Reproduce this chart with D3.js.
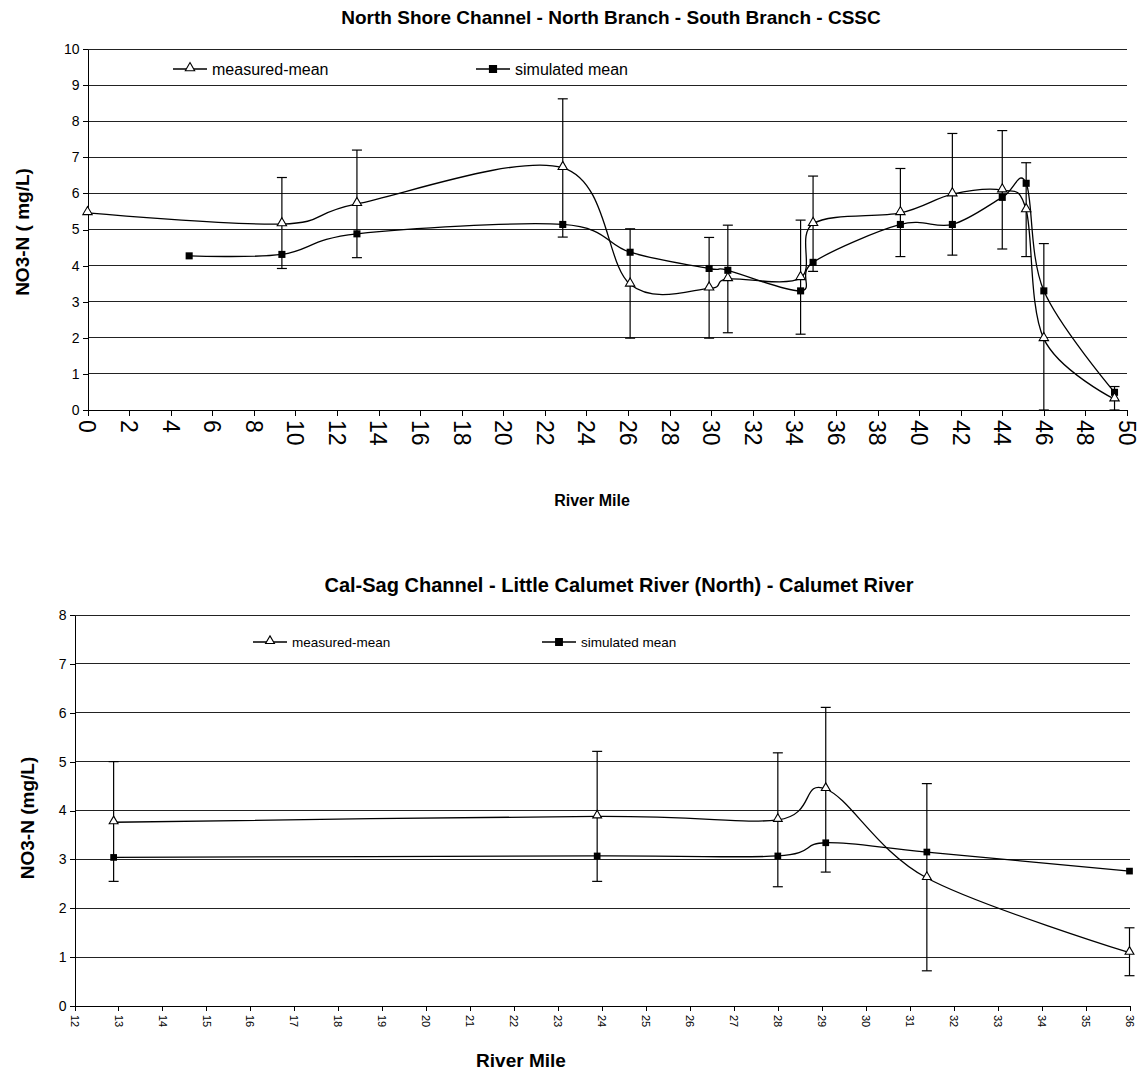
<!DOCTYPE html>
<html>
<head>
<meta charset="utf-8">
<script src="https://d3js.org/d3.v7.min.js"></script>
<style>
  body { margin: 0; background: #fff; }
  svg { display: block; font-family: "Liberation Sans", Arial, sans-serif; }
  .grid line { stroke: #222; stroke-width: 1; shape-rendering: crispEdges; }
  .axis path, .axis line { stroke: #000; shape-rendering: crispEdges; }
</style>
</head>
<body>
<script>
// ---- North Shore Channel - North Branch - South Branch - CSSC ----
var nsMeasMile = [0, 9.35, 12.96, 22.86, 26.1, 29.9, 30.8, 34.3, 34.9, 39.1, 41.6, 44.0, 45.15, 46.0, 49.4];
var nsMeasured = [5.46, 5.15, 5.71, 6.71, 3.48, 3.37, 3.63, 3.66, 5.16, 5.46, 5.98, 6.09, 5.54, 1.97, 0.30];
var nsSimMile = [4.89, 9.35, 12.96, 22.86, 26.1, 29.9, 30.8, 34.3, 34.9, 39.1, 41.6, 44.0, 45.15, 46.0, 49.4];
var nsSimulated = [4.27, 4.31, 4.88, 5.14, 4.37, 3.92, 3.87, 3.30, 4.09, 5.14, 5.14, 5.89, 6.28, 3.30, 0.49];
var nsErrMile = [9.35, 12.96, 22.86, 26.1, 29.9, 30.8, 34.3, 34.9, 39.1, 41.6, 44.0, 45.15, 46.0, 49.4];
var nsErrLow = [3.92, 4.22, 4.79, 1.99, 1.99, 2.14, 2.10, 3.84, 4.25, 4.29, 4.46, 4.25, 0, 0];
var nsErrHigh = [6.44, 7.20, 8.62, 5.02, 4.78, 5.12, 5.26, 6.48, 6.69, 7.66, 7.74, 6.85, 4.61, 0.65];

// ---- Cal-Sag Channel - Little Calumet River (North) - Calumet River ----
var csMile = [12.89, 23.89, 28.0, 29.09, 31.39, 36.0];
var csMeasured = [3.76, 3.88, 3.81, 4.44, 2.62, 1.09];
var csSimulated = [3.04, 3.07, 3.07, 3.34, 3.15, 2.76];
var csErrLow = [2.55, 2.55, 2.44, 2.74, 0.72, 0.62];
var csErrHigh = [5.00, 5.21, 5.18, 6.11, 4.55, 1.60];

var svg = d3.select("body").append("svg")
  .attr("width", 1138)
  .attr("height", 1072);

function zip(xs, ys) { return xs.map(function (x, i) { return [x, ys[i]]; }); }

function drawPanel(o) {
  var g = svg.append("g");
  var x = d3.scaleLinear().domain(o.xDomain).range(o.xRange);
  var y = d3.scaleLinear().domain(o.yDomain).range(o.yRange);

  // horizontal grid lines
  g.append("g").attr("class", "grid")
    .selectAll("line")
    .data(o.yTicks.filter(function (d) { return d > 0; }))
    .enter().append("line")
    .attr("x1", o.xRange[0]).attr("x2", o.xRange[1])
    .attr("y1", function (d) { return y(d); })
    .attr("y2", function (d) { return y(d); });

  // x axis: ticks from d3, labels rotated 90deg clockwise
  var ax = g.append("g").attr("class", "axis")
    .attr("transform", "translate(0," + o.yRange[0] + ")")
    .call(d3.axisBottom(x).tickValues(o.xTicks).tickSizeInner(o.xTickSize).tickSizeOuter(0).tickFormat(""));
  ax.selectAll("text").remove();
  g.append("g")
    .attr("font-size", o.xFont)
    .selectAll("text")
    .data(o.xTicks)
    .enter().append("text")
    .attr("transform", function (d) {
      return "translate(" + x(d) + "," + (o.yRange[0] + o.xTickSize + o.xPad) + ") rotate(90)";
    })
    .attr("dy", "0.35em")
    .attr("text-anchor", "start")
    .text(function (d) { return d; });

  var ay = g.append("g").attr("class", "axis")
    .attr("transform", "translate(" + o.xRange[0] + ",0)")
    .call(d3.axisLeft(y).tickValues(o.yTicks).tickSizeInner(o.yTickSize).tickSizeOuter(0).tickPadding(3));
  ay.selectAll("text")
    .attr("font-family", "Liberation Sans, Arial, sans-serif")
    .attr("font-size", o.yFont)
    .attr("fill", "#000");

  // error bars
  var eb = g.append("g").attr("stroke", "#000").attr("stroke-width", 1.2);
  o.errMile.forEach(function (m, i) {
    var cx = x(m), lo = y(o.errLow[i]), hi = y(o.errHigh[i]);
    eb.append("line").attr("x1", cx).attr("x2", cx).attr("y1", lo).attr("y2", hi);
    eb.append("line").attr("x1", cx - o.cap).attr("x2", cx + o.cap).attr("y1", lo).attr("y2", lo);
    eb.append("line").attr("x1", cx - o.cap).attr("x2", cx + o.cap).attr("y1", hi).attr("y2", hi);
  });

  var line = d3.line()
    .x(function (d) { return x(d[0]); })
    .y(function (d) { return y(d[1]); })
    .curve(d3.curveCatmullRom.alpha(0));

  var meas = zip(o.measMile, o.measured);
  var sim = zip(o.simMile, o.simulated);

  g.append("path").datum(meas).attr("d", line)
    .attr("fill", "none").attr("stroke", "#000").attr("stroke-width", 1.3);
  g.append("path").datum(sim).attr("d", line)
    .attr("fill", "none").attr("stroke", "#000").attr("stroke-width", 1.3);

  var tri = d3.symbol().type(d3.symbolTriangle).size(o.triSize);
  var sq = d3.symbol().type(d3.symbolSquare).size(o.sqSize);

  g.selectAll(".sq").data(sim).enter().append("path")
    .attr("class", "sq")
    .attr("d", sq)
    .attr("transform", function (d) { return "translate(" + x(d[0]) + "," + y(d[1]) + ")"; })
    .attr("fill", "#000");
  g.selectAll(".tri").data(meas).enter().append("path")
    .attr("class", "tri")
    .attr("d", tri)
    .attr("transform", function (d) { return "translate(" + x(d[0]) + "," + (y(d[1]) - 1) + ")"; })
    .attr("fill", "#fff").attr("stroke", "#000").attr("stroke-width", 1.1);

  // legend
  var lg = g.append("g").attr("font-size", o.legFont);
  o.legend.forEach(function (l) {
    lg.append("line").attr("x1", l.x).attr("x2", l.x + 34).attr("y1", l.y).attr("y2", l.y)
      .attr("stroke", "#000").attr("stroke-width", 1.3);
    lg.append("path")
      .attr("d", l.type === "tri" ? tri : sq)
      .attr("transform", "translate(" + (l.x + 17) + "," + (l.y - (l.type === "tri" ? 1 : 0)) + ")")
      .attr("fill", l.type === "tri" ? "#fff" : "#000")
      .attr("stroke", "#000").attr("stroke-width", 1.1);
    lg.append("text").attr("x", l.x + 39).attr("y", l.y).attr("dy", "0.35em").text(l.text);
  });

  // titles
  g.append("text")
    .attr("x", o.titleX).attr("y", o.titleY).attr("dy", "0.35em")
    .attr("text-anchor", "middle").attr("font-weight", "bold").attr("font-size", o.titleFont)
    .text(o.title);
  g.append("text")
    .attr("x", o.xTitleX).attr("y", o.xTitleY).attr("dy", "0.35em")
    .attr("text-anchor", "middle").attr("font-weight", "bold").attr("font-size", o.xTitleFont)
    .text("River Mile");
  g.append("text")
    .attr("transform", "translate(" + o.yTitleX + "," + o.yTitleY + ") rotate(-90)")
    .attr("text-anchor", "middle").attr("dy", "0.35em").attr("font-weight", "bold").attr("font-size", o.yTitleFont)
    .text(o.yTitle);
}

drawPanel({
  xDomain: [0, 50], xRange: [87.5, 1127],
  yDomain: [0, 10], yRange: [410, 49],
  xTicks: d3.range(0, 51, 2), yTicks: d3.range(0, 11, 1),
  xTickSize: 6, yTickSize: 5, xPad: 4, xFont: 23, yFont: 14,
  measMile: nsMeasMile, measured: nsMeasured,
  simMile: nsSimMile, simulated: nsSimulated,
  errMile: nsErrMile, errLow: nsErrLow, errHigh: nsErrHigh,
  cap: 5, triSize: 38, sqSize: 50,
  legFont: 16,
  legend: [
    { x: 173, y: 69, type: "tri", text: "measured-mean" },
    { x: 476, y: 69, type: "sq", text: "simulated mean" }
  ],
  title: "North Shore Channel - North Branch - South Branch - CSSC",
  titleX: 611, titleY: 17, titleFont: 19,
  xTitleX: 592, xTitleY: 500, xTitleFont: 16,
  yTitle: "NO3-N ( mg/L)", yTitleX: 22, yTitleY: 232, yTitleFont: 19
});

drawPanel({
  xDomain: [12, 36], xRange: [74.5, 1129.5],
  yDomain: [0, 8], yRange: [1006, 615],
  xTicks: d3.range(12, 37, 1), yTicks: d3.range(0, 9, 1),
  xTickSize: 5, yTickSize: 5, xPad: 4, xFont: 11, yFont: 14,
  measMile: csMile, measured: csMeasured,
  simMile: csMile, simulated: csSimulated,
  errMile: csMile, errLow: csErrLow, errHigh: csErrHigh,
  cap: 5, triSize: 34, sqSize: 45,
  legFont: 13.5,
  legend: [
    { x: 253, y: 642, type: "tri", text: "measured-mean" },
    { x: 542, y: 642, type: "sq", text: "simulated mean" }
  ],
  title: "Cal-Sag Channel - Little Calumet River (North) - Calumet River",
  titleX: 619, titleY: 585, titleFont: 20,
  xTitleX: 521, xTitleY: 1060, xTitleFont: 19,
  yTitle: "NO3-N (mg/L)", yTitleX: 27, yTitleY: 818, yTitleFont: 19
});
</script>
</body>
</html>
